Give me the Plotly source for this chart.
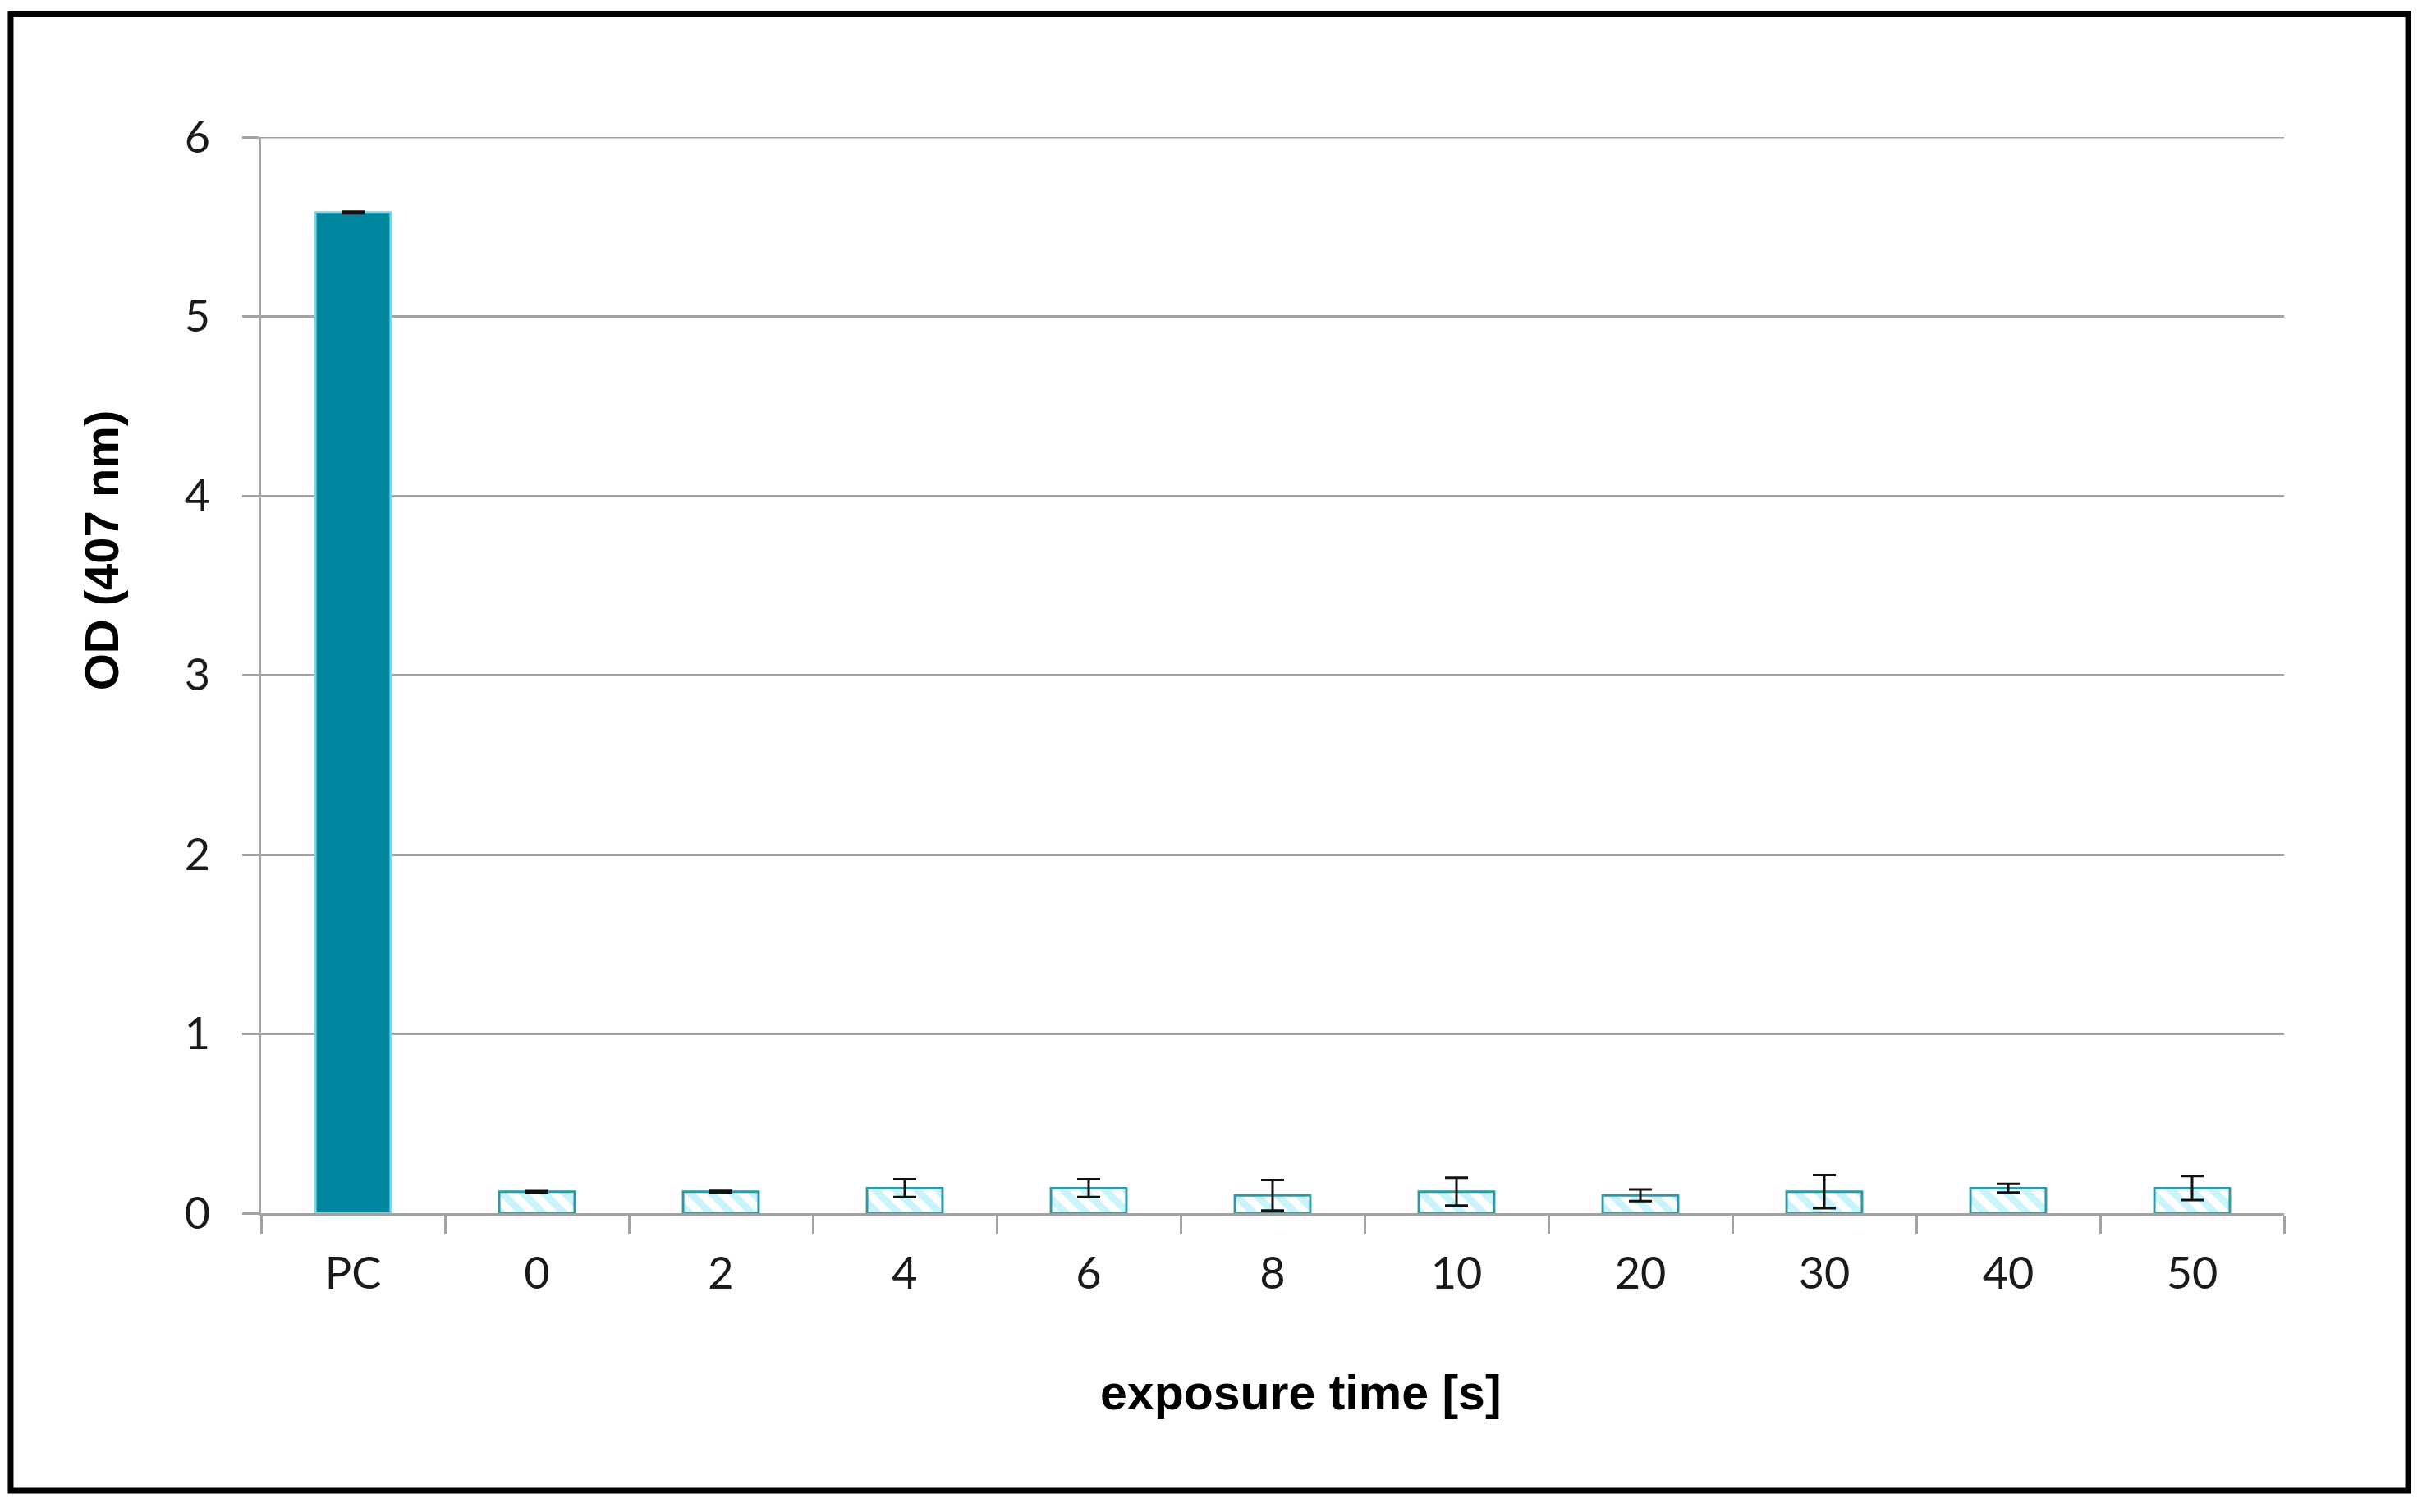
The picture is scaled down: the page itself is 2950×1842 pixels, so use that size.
'''
    OD (407 nm) against exposure time, with a positive control bar.
'''

import plotly.graph_objects as go


categories = ['PC', '0', '2', '4', '6', '8', '10', '20', '30', '40', '50']
od_mean = [5.58, 0.12, 0.12, 0.14, 0.14, 0.10, 0.12, 0.10, 0.12, 0.14, 0.14]
od_err = [0.005, 0.003, 0.005, 0.05, 0.05, 0.085, 0.078, 0.033, 0.093, 0.024, 0.067]
y_ticks = [0, 1, 2, 3, 4, 5, 6]

GRID = '#a3a3a3'
TEAL = '#00869f'


def build_figure():
    fig = go.Figure()

    # PC is solid, the exposure bars are hatched
    shapes = ['' if c == 'PC' else '\\' for c in categories]
    colors = [TEAL if c == 'PC' else '#c9f4fa' for c in categories]
    lines = ['#6fdbe8' if c == 'PC' else '#2f98aa' for c in categories]

    fig.add_trace(go.Bar(
        x=categories, y=od_mean,
        marker=dict(color=colors,
                    line=dict(color=lines, width=3),
                    pattern=dict(shape=shapes, fgcolor='#2a9aad',
                                 bgcolor=colors, size=18, solidity=0.5,
                                 fillmode='replace')),
        error_y=dict(type='data', array=od_err, visible=True,
                     color='#111111', thickness=3, width=14),
        showlegend=False,
    ))

    # html body has an 8px margin, so the margins are shifted by it
    fig.update_layout(
        width=2950, height=1842,
        margin=dict(l=310, r=176, t=159, b=372),
        paper_bgcolor='white', plot_bgcolor='white',
        bargap=0.59,
        font=dict(family='Lato', size=54, color='#1a1a1a'),
    )

    fig.update_xaxes(
        type='category', showgrid=False, zeroline=False,
        showline=True, linecolor=GRID, linewidth=3,
        ticks='outside', tickson='boundaries', ticklen=22,
        tickcolor=GRID, tickwidth=3, ticklabelstandoff=24,
    )
    fig.update_yaxes(
        range=[0, 6], tickvals=y_ticks, showgrid=True,
        gridcolor=GRID, gridwidth=3, zeroline=False,
        showline=True, linecolor=GRID, linewidth=3,
        ticks='outside', ticklen=20, tickcolor=GRID, tickwidth=3,
        ticklabelstandoff=28,
    )

    # plotly leaves out the gridline on the top edge, draw it by hand
    fig.add_shape(type='line', xref='paper', yref='y', x0=0, x1=1,
                  y0=y_ticks[-1], y1=y_ticks[-1],
                  line=dict(color=GRID, width=3), layer='below')

    fig.add_annotation(text='<b>exposure time [s]</b>', xref='paper', yref='paper',
                       x=0.514, y=-0.167, showarrow=False,
                       xanchor='center', yanchor='middle',
                       font=dict(family='Liberation Sans', size=59, color='black'))
    fig.add_annotation(text='<b>OD (407 nm)</b>', xref='paper', yref='paper',
                       x=-0.079, y=0.6163, showarrow=False, textangle=-90,
                       xanchor='center', yanchor='middle',
                       font=dict(family='Liberation Sans', size=58, color='black'))

    # black frame round the whole picture
    fig.add_shape(type='rect', xref='paper', yref='paper',
                  x0=-0.1238, x1=1.0613, y0=-0.2578, y1=1.114,
                  line=dict(color='black', width=7), layer='above')
    return fig


fig = build_figure()
fig.write_html("out.html")
